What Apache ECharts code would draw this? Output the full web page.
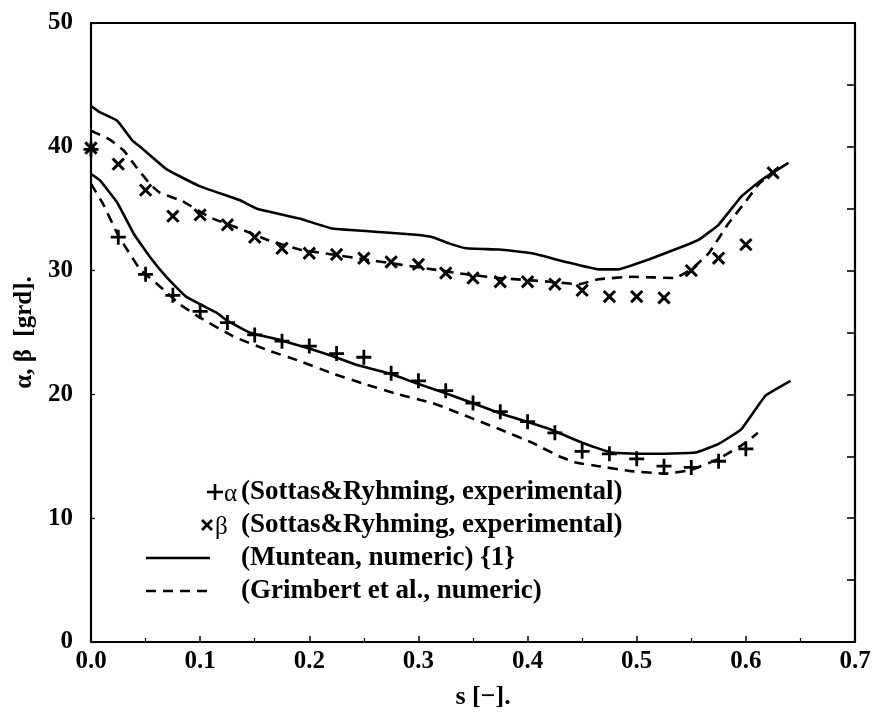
<!DOCTYPE html>
<html>
<head>
<meta charset="utf-8">
<script src="https://cdn.jsdelivr.net/npm/echarts@6/dist/echarts.min.js"></script>
<style>
  html, body { margin: 0; padding: 0; background: #ffffff; }
  #chart { width: 875px; height: 715px; }
</style>
</head>
<body>
<div id="chart"></div>
<script>
// Flow angles alpha / beta along the blade, s [-]

// Sottas & Ryhming, experimental (alpha: "+", beta: "x")
const sExpAlpha = [0, 0.025, 0.05, 0.075, 0.1, 0.125, 0.15, 0.175, 0.2, 0.225, 0.25, 0.275, 0.3,
                   0.325, 0.35, 0.375, 0.4, 0.425, 0.45, 0.475, 0.5, 0.525, 0.55, 0.575, 0.6];
const alphaExp  = [39.8, 32.7, 29.7, 28.0, 26.7, 25.8, 24.8, 24.3, 23.9, 23.3, 23.0, 21.7, 21.1,
                   20.3, 19.3, 18.6, 17.8, 16.9, 15.4, 15.2, 14.8, 14.2, 14.1, 14.6, 15.6];

const sExpBeta  = [0, 0.025, 0.05, 0.075, 0.1, 0.125, 0.15, 0.175, 0.2, 0.225, 0.25, 0.275, 0.3,
                   0.325, 0.35, 0.375, 0.4, 0.425, 0.45, 0.475, 0.5, 0.525, 0.55, 0.575, 0.6, 0.625];
const betaExp   = [39.9, 38.6, 36.5, 34.4, 34.5, 33.7, 32.7, 31.8, 31.4, 31.3, 31.0, 30.7, 30.5,
                   29.8, 29.4, 29.1, 29.1, 28.9, 28.4, 27.9, 27.9, 27.8, 30.0, 31.0, 32.1, 37.9];

// Muntean, numeric {1}
const sMunteanB = [0, 0.008, 0.024, 0.038, 0.045, 0.069, 0.1, 0.136, 0.152, 0.191, 0.221, 0.267,
                   0.298, 0.313, 0.328, 0.344, 0.374, 0.404, 0.435, 0.465, 0.483, 0.511, 0.541,
                   0.557, 0.575, 0.596, 0.614, 0.639];
const munteanB  = [43.3, 42.8, 42.1, 40.5, 40.0, 38.2, 36.8, 35.7, 35.0, 34.2, 33.4, 33.1,
                   32.9, 32.7, 32.2, 31.8, 31.7, 31.4, 30.7, 30.1, 30.1, 30.9, 31.9,
                   32.5, 33.7, 36.0, 37.3, 38.7];

const sMunteanA = [0, 0.008, 0.024, 0.039, 0.054, 0.069, 0.087, 0.115, 0.124, 0.145, 0.173, 0.2,
                   0.221, 0.243, 0.273, 0.298, 0.325, 0.374, 0.42, 0.45, 0.477, 0.511, 0.554,
                   0.575, 0.596, 0.618, 0.641];
const munteanA  = [37.8, 37.3, 35.5, 33.0, 31.1, 29.5, 27.9, 26.6, 26.0, 25.0, 24.4, 23.7,
                   23.1, 22.4, 21.7, 20.9, 20.1, 18.5, 17.2, 16.1, 15.3, 15.2, 15.3,
                   16.0, 17.2, 19.9, 21.1];

// Grimbert et al., numeric
const sGrimbertB = [0, 0.017, 0.03, 0.042, 0.054, 0.063, 0.084, 0.109, 0.136, 0.161, 0.191, 0.221,
                    0.252, 0.282, 0.313, 0.344, 0.374, 0.42, 0.447, 0.465, 0.495, 0.535, 0.55,
                    0.566, 0.584, 0.6, 0.612, 0.628];
const grimbertB  = [41.3, 40.6, 39.7, 38.3, 37.0, 36.3, 35.6, 34.3, 33.4, 32.5, 31.7, 31.3,
                    30.9, 30.5, 30.1, 29.7, 29.4, 29.1, 28.9, 29.3, 29.5, 29.4, 30.1,
                    31.4, 33.8, 35.6, 37.0, 38.2];

const sGrimbertA = [0, 0.011, 0.024, 0.033, 0.045, 0.066, 0.081, 0.1, 0.13, 0.161, 0.191, 0.221,
                    0.252, 0.282, 0.313, 0.328, 0.374, 0.404, 0.429, 0.444, 0.465, 0.495, 0.526,
                    0.55, 0.575, 0.6, 0.611];
const grimbertA  = [37.0, 35.4, 33.0, 31.7, 30.1, 28.5, 27.3, 26.2, 24.7, 23.6, 22.7, 21.7,
                    20.8, 20.0, 19.3, 18.8, 17.2, 16.1, 15.0, 14.5, 14.2, 13.8, 13.6,
                    13.9, 14.8, 16.1, 16.9];

// Legend entries
const legendSymbols = ['\u03b1', '\u03b2'];
const legendTexts = [
  '(Sottas&Ryhming, experimental)',
  '(Sottas&Ryhming, experimental)',
  '(Muntean, numeric) {1}',
  '(Grimbert et al., numeric)'
];

const FONT = '"Liberation Serif", "Times New Roman", serif';
const INK = '#000000';
const PLUS = 'path://M-1.3,-7L1.3,-7L1.3,-1.3L7,-1.3L7,1.3L1.3,1.3L1.3,7L-1.3,7L-1.3,1.3L-7,1.3L-7,-1.3L-1.3,-1.3Z';

const zip = (xs, ys) => xs.map((x, i) => [x, ys[i]]);

const lineSeries = (name, xs, ys, dashed) => ({
  name: name,
  type: 'line',
  data: zip(xs, ys),
  showSymbol: false,
  smooth: 0.1,
  silent: true,
  lineStyle: { color: INK, width: 2.6, opacity: 1, type: dashed ? [10, 7] : 'solid' }
});

const chart = echarts.init(document.getElementById('chart'), null, { renderer: 'canvas' });

// Legend drawn as plain graphics inside the plot
const rowY = [492, 525, 558, 591];
const textX = 241;
const legendGraphics = [];
// + alpha
legendGraphics.push({ type: 'line', shape: { x1: 207, y1: rowY[0], x2: 223, y2: rowY[0] }, style: { stroke: INK, lineWidth: 2.6 } });
legendGraphics.push({ type: 'line', shape: { x1: 215, y1: rowY[0] - 8, x2: 215, y2: rowY[0] + 8 }, style: { stroke: INK, lineWidth: 2.6 } });
// x beta
legendGraphics.push({ type: 'line', shape: { x1: 202, y1: rowY[1] - 5, x2: 212, y2: rowY[1] + 5 }, style: { stroke: INK, lineWidth: 2.6 } });
legendGraphics.push({ type: 'line', shape: { x1: 212, y1: rowY[1] - 5, x2: 202, y2: rowY[1] + 5 }, style: { stroke: INK, lineWidth: 2.6 } });
// greek letters
legendGraphics.push({ type: 'text', x: 224, y: rowY[0] + 2, style: { text: legendSymbols[0], font: '25px ' + FONT, fill: INK, textVerticalAlign: 'middle' } });
legendGraphics.push({ type: 'text', x: 215, y: rowY[1] + 2, style: { text: legendSymbols[1], font: '25px ' + FONT, fill: INK, textVerticalAlign: 'middle' } });
// solid and dashed samples
legendGraphics.push({ type: 'line', shape: { x1: 146, y1: rowY[2], x2: 210, y2: rowY[2] }, style: { stroke: INK, lineWidth: 2.6 } });
legendGraphics.push({ type: 'line', shape: { x1: 146, y1: rowY[3], x2: 210, y2: rowY[3] }, style: { stroke: INK, lineWidth: 2.6, lineDash: [10, 7] } });
legendTexts.forEach((t, i) => {
  legendGraphics.push({
    type: 'text', x: textX, y: rowY[i],
    style: { text: t, font: 'bold 27px ' + FONT, fill: INK, textVerticalAlign: 'middle' }
  });
});

const option = {
  animation: false,
  backgroundColor: '#ffffff',
  grid: { left: 91, right: 20, top: 23, bottom: 69 },
  xAxis: [
    {
      type: 'value', position: 'bottom', min: 0, max: 0.7, interval: 0.1,
      name: 's [\u2212].', nameLocation: 'middle', nameGap: 42,
      nameTextStyle: { fontFamily: FONT, fontWeight: 'bold', fontSize: 26, color: INK, padding: [0, 0, 0, 20] },
      axisLine: { onZero: false, lineStyle: { color: INK, width: 2.2 } },
      axisTick: { inside: true, length: 6, lineStyle: { color: INK, width: 1.5 } },
      minorTick: { show: true, splitNumber: 2, length: 4, lineStyle: { color: INK, width: 1.2 } },
      splitLine: { show: false },
      axisLabel: {
        margin: 7, fontFamily: FONT, fontWeight: 'bold', fontSize: 25, color: INK,
        formatter: v => v.toFixed(1)
      }
    },
    {
      type: 'value', position: 'top', min: 0, max: 0.7, interval: 0.1,
      axisLine: { onZero: false, lineStyle: { color: INK, width: 2.2 } },
      axisTick: { show: false }, axisLabel: { show: false }, splitLine: { show: false }
    }
  ],
  yAxis: [
    {
      type: 'value', position: 'left', min: 0, max: 50, interval: 10,
      name: '\u03b1, \u03b2  [grd].', nameLocation: 'middle', nameGap: 45, nameRotate: 90,
      nameTextStyle: { fontFamily: FONT, fontWeight: 'bold', fontSize: 25, color: INK },
      axisLine: { onZero: false, lineStyle: { color: INK, width: 2.2 } },
      axisTick: { inside: true, length: 4, lineStyle: { color: INK, width: 1.2 } },
      splitLine: { show: false },
      axisLabel: { margin: 18, fontFamily: FONT, fontWeight: 'bold', fontSize: 25, color: INK }
    },
    {
      type: 'value', position: 'right', min: 0, max: 50, interval: 5,
      axisLine: { onZero: false, lineStyle: { color: INK, width: 2.2 } },
      axisTick: { inside: true, length: 8, lineStyle: { color: INK, width: 1.6 } },
      axisLabel: { show: false }, splitLine: { show: false }
    }
  ],
  series: [
    lineSeries('Muntean beta', sMunteanB, munteanB, false),
    lineSeries('Muntean alpha', sMunteanA, munteanA, false),
    lineSeries('Grimbert beta', sGrimbertB, grimbertB, true),
    lineSeries('Grimbert alpha', sGrimbertA, grimbertA, true),
    {
      name: 'alpha exp', type: 'scatter', data: zip(sExpAlpha, alphaExp),
      symbol: PLUS, symbolSize: 15, silent: true,
      itemStyle: { color: INK, opacity: 1 }
    },
    {
      name: 'beta exp', type: 'scatter', data: zip(sExpBeta, betaExp),
      symbol: PLUS, symbolSize: 16, symbolRotate: 45, silent: true,
      itemStyle: { color: INK, opacity: 1 }
    }
  ],
  graphic: legendGraphics
};

chart.setOption(option);
</script>
</body>
</html>
